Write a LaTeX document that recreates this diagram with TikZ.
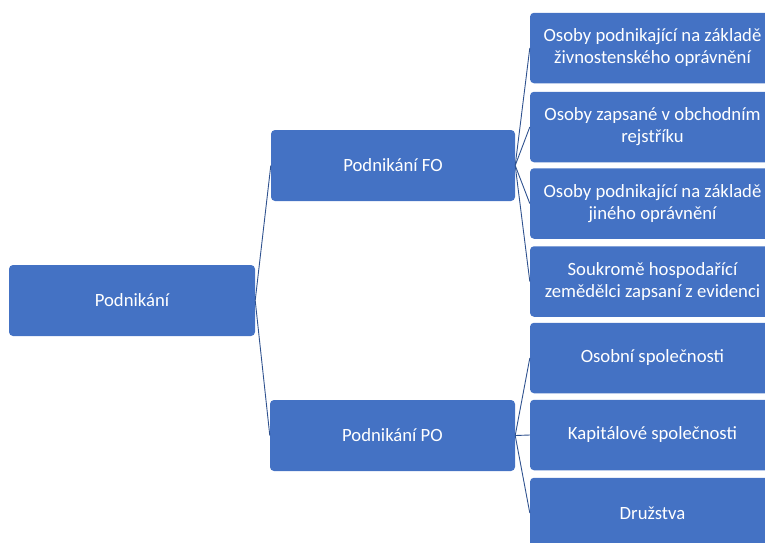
\documentclass[tikz,border=0pt]{standalone}
\usepackage{fontspec}
\setmainfont{Carlito}
\definecolor{boxblue}{HTML}{4472C4}
\definecolor{lineblue}{HTML}{2F528F}
\begin{document}
\begin{tikzpicture}[x=1pt,y=-1pt,
  box/.style={rectangle, fill=boxblue, rounded corners=4pt, text=white, align=center, inner sep=0pt,
    minimum width=245pt, minimum height=70.5pt, font=\fontsize{18.7}{22}\selectfont},
  link/.style={draw=lineblue, line width=0.9pt}]
\useasboundingbox (0,0) rectangle (765,542);
\clip (0,0) rectangle (765,542);
\node[box, minimum width=246pt, minimum height=71pt] (root) at (132,300.5) {Podnikání};
\node[box, minimum width=244pt, minimum height=71pt] (fo) at (393,165.5) {Podnikání FO};
\node[box, minimum width=245pt, minimum height=71pt] (po) at (392.5,435.5) {Podnikání PO};
\node[box] (a1) at (652.5,48) {Osoby podnikající na základě\\živnostenského oprávnění};
\node[box] (a2) at (652.5,127) {Osoby zapsané v obchodním\\rejstříku};
\node[box] (a3) at (652.5,203.5) {Osoby podnikající na základě\\jiného oprávnění};
\node[box] (a4) at (652.5,281.5) {Soukromě hospodařící\\zemědělci zapsaní z evidenci};
\node[box] (b1) at (652.5,358) {Osobní společnosti};
\node[box] (b2) at (652.5,435) {Kapitálové společnosti};
\node[box] (b3) at (652.5,513) {Družstva};
\draw[link] (root.east) -- (fo.west);
\draw[link] (root.east) -- (po.west);
\foreach \t in {a1,a2,a3,a4} \draw[link] (fo.east) -- (\t.west);
\foreach \t in {b1,b2,b3} \draw[link] (po.east) -- (\t.west);
\end{tikzpicture}
\end{document}
